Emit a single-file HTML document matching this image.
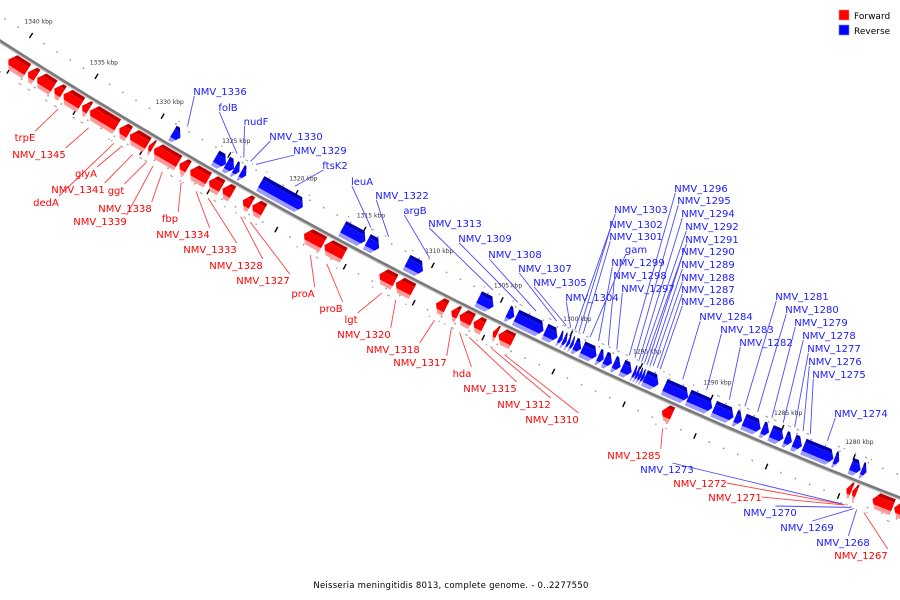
<!DOCTYPE html>
<html>
<head>
<meta charset="utf-8">
<style>
html,body{margin:0;padding:0;background:#fff;}
svg{display:block;}
text{font-family:"DejaVu Sans","Liberation Sans",sans-serif;}
</style>
</head>
<body>
<svg id="chart" width="900" height="600" viewBox="0 0 900 600" xmlns="http://www.w3.org/2000/svg">
  <g id="ticks"></g>
  <g id="backbone"></g>
  <g id="genes"></g>
  <g id="leaders"></g>
  <g id="labels"></g>
  <g>
    <rect x="839" y="10" width="10" height="10" fill="#ff0000" stroke="#ff8080" stroke-width="0.6"/>
    <text x="854" y="19" font-size="9" fill="#000">Forward</text>
    <rect x="839" y="25" width="10" height="10" fill="#0000ff" stroke="#8080ff" stroke-width="0.6"/>
    <text x="854" y="34" font-size="9" fill="#000">Reverse</text>
  </g>
  <text x="451" y="588" font-size="8.5" text-anchor="middle" fill="#000" letter-spacing="0.25">Neisseria meningitidis 8013, complete genome. - 0..2277550</text>
</svg>
<script>
// ---- data (kbp) ----
const fwdStart = [1340.4,1338.9,1338.2,1336.9,1336.2,1334.8,1334.2,1332.0,1331.2,1329.8,1329.4,1327.5,1326.7,1325.3,1324.3,1322.8,1322.1,1318.3,1316.8,1312.8,1311.6,1308.7,1307.6,1307.0,1306.0,1304.6,1304.2,1292.6,1279.7,1279.3,1277.9,1276.4];
const fwdEnd   = [1339.0,1338.3,1337.0,1336.3,1334.9,1334.3,1332.2,1331.3,1329.9,1329.5,1327.6,1326.9,1325.4,1324.4,1323.6,1322.2,1321.3,1316.9,1315.4,1311.7,1310.4,1308.0,1307.1,1306.1,1305.3,1304.3,1303.2,1291.9,1279.35,1279.0,1276.5,1275.3];
const revStart = [1328.9,1325.7,1324.9,1324.3,1323.8,1322.35,1316.3,1314.5,1311.6,1306.4,1304.3,1303.7,1301.6,1300.6,1300.3,1300.0,1299.75,1299.5,1298.95,1297.8,1297.35,1296.7,1296.1,1295.3,1295.1,1294.9,1294.7,1294.5,1293.1,1291.4,1289.6,1288.1,1287.5,1286.2,1285.6,1284.6,1284.0,1283.3,1281.15,1280.0,1279.25];
const revEnd   = [1328.3,1324.9,1324.3,1323.9,1323.4,1319.2,1314.6,1313.6,1310.4,1305.3,1303.8,1301.7,1300.7,1300.35,1300.05,1299.8,1299.55,1299.0,1297.9,1297.4,1296.8,1296.2,1295.4,1295.1,1294.9,1294.7,1294.5,1293.5,1291.4,1289.7,1288.2,1287.6,1286.3,1285.7,1284.7,1284.1,1283.4,1281.2,1280.8,1279.3,1278.9];
const tickKbp = [1340,1335,1330,1325,1320,1315,1310,1305,1300,1295,1290,1285,1280];
const tickLabels = ["1340 kbp","1335 kbp","1330 kbp","1325 kbp","1320 kbp","1315 kbp","1310 kbp","1305 kbp","1300 kbp","1295 kbp","1290 kbp","1285 kbp","1280 kbp"];
const labelNames = ["trpE","NMV_1345","glyA","NMV_1341","ggt","dedA","NMV_1338","NMV_1339","fbp","NMV_1334","NMV_1333","NMV_1328","NMV_1327","proA","proB","lgt","NMV_1320","NMV_1318","NMV_1317","hda","NMV_1315","NMV_1312","NMV_1310","NMV_1285","NMV_1272","NMV_1271","NMV_1267",
"NMV_1336","folB","nudF","NMV_1330","NMV_1329","ftsK2","leuA","NMV_1322","argB","NMV_1313","NMV_1309","NMV_1308","NMV_1307","NMV_1305","NMV_1304","NMV_1303","NMV_1302","NMV_1301","gam","NMV_1299","NMV_1298","NMV_1297","NMV_1296","NMV_1295","NMV_1294","NMV_1292","NMV_1291","NMV_1290","NMV_1289","NMV_1288","NMV_1287","NMV_1286","NMV_1284","NMV_1283","NMV_1282","NMV_1281","NMV_1280","NMV_1279","NMV_1278","NMV_1277","NMV_1276","NMV_1275","NMV_1274","NMV_1273","NMV_1270","NMV_1269","NMV_1268"];
const labelStrand = ["F","F","F","F","F","F","F","F","F","F","F","F","F","F","F","F","F","F","F","F","F","F","F","F","F","F","F",
"R","R","R","R","R","R","R","R","R","R","R","R","R","R","R","R","R","R","R","R","R","R","R","R","R","R","R","R","R","R","R","R","R","R","R","R","R","R","R","R","R","R","R","R","R","R","R"];
const labelTarget = [1336.0,1333.7,1331.3,1330.4,1329.4,1331.8,1328.2,1328.9,1326.8,1325.7,1324.8,1322.4,1321.7,1317.3,1316.1,1312.1,1311.1,1308.3,1307.1,1306.5,1305.8,1304.2,1303.3,1292.1,1279.5,1279.4,1278.1,
1328.3,1324.6,1324.1,1323.6,1323.2,1320.3,1314.7,1313.4,1310.4,1305.8,1304.0,1302.7,1301.2,1300.5,1300.2,1299.9,1299.6,1299.3,1298.8,1298.2,1297.5,1296.9,1296.0,1295.6,1295.3,1295.1,1294.9,1294.7,1294.5,1294.3,1294.0,1293.8,1292.2,1290.5,1288.9,1287.8,1286.9,1285.9,1285.1,1284.3,1283.7,1283.2,1282.0,1279.6,1279.0,1278.8,1278.6];
// label layout (text centre x, centre y) — placement, not data
const labelLayoutX = [25,39,86,78,116,46,125,100,170,183,210,236,263,303,331,351,364,393,420,462,490,524,552,634,700,735,861,
220,228,256,296,320,335,362,402,415,455,485,515,545,560,592,641,636,636,636,638,640,648,701,704,708,712,712,708,708,708,708,708,726,747,766,802,812,821,829,834,835,839,861,667,770,807,843];
const labelLayoutY = [137,154,173,189,190,202,208,221,218,234,249,265,280,293,308,319,334,349,362,373,388,404,419,455,483,497,555,
91,107,121,136,150,165,181,195,210,223,238,254,268,282,297,209,224,236,249,262,275,288,188,200,213,226,239,251,264,277,289,301,316,329,342,296,309,322,335,348,361,374,413,469,512,527,542];

// ---- geometry ----
const NS = "http://www.w3.org/2000/svg";
const CX = 2712, CY = -4185, R = 5021;
const DTH = 15.5 / R;
const TH_REF = Math.atan2(267 - CY, 432 - CX);
function pos(k, r){ const t = TH_REF + (k - 1310) * DTH; return [CX + r*Math.cos(t), CY + r*Math.sin(t)]; }
function mk(tag, attrs, parent){ const e = document.createElementNS(NS, tag); for (const a in attrs) e.setAttribute(a, attrs[a]); parent.appendChild(e); return e; }
function pts(a){ return a.map(p => p[0].toFixed(1)+","+p[1].toFixed(1)).join(" "); }

// backbone
const gb = document.getElementById("backbone");
const bbS = [], bbL = [];
for (let k = 1344; k >= 1273; k -= 0.5){ bbS.push(pos(k, R + 1.5)); bbL.push(pos(k, R)); }
const bsh = mk("polyline", {points: pts(bbS), fill: "none", stroke: "#c8c8c8", "stroke-width": 2}, gb);


const bl = mk("polyline", {points: pts(bbL), fill: "none", stroke: "#7a7a7a", "stroke-width": 2.6}, gb);



// ticks & dots
const gt = document.getElementById("ticks");
for (let k = 1344; k >= 1274; k--){
  const major = tickKbp.indexOf(k);
  [R - 21, R + 21].forEach(function(r){
    if (major >= 0){
      const a = pos(k, r - 3), b = pos(k, r + 3);
      const tm = mk("line", {x1:a[0], y1:a[1], x2:b[0], y2:b[1], stroke:"#000", "stroke-width":1.4}, gt);
      
      
    } else {
      const p = pos(k, r);
      const d = mk("circle", {cx:p[0], cy:p[1], r:0.9, fill:"#999"}, gt);
      
      
    }
  });
}
tickKbp.forEach(function(k, i){
  const p = pos(k, R - 35);
  const t = mk("text", {x:p[0], y:p[1], "font-size":6, "text-anchor":"middle", fill:"#333", "font-family":"Liberation Serif, serif"}, gt);
  t.textContent = tickLabels[i];
  
  
});

// genes
const gg = document.getElementById("genes");
function band(s, e, ra, rb, rm, h, tipAtStart, L){
  const len = s - e; const Lk = Math.min(L, len * 0.7);
  function endAt(r){ const f = 1 - Math.abs(r - rm)/h; return Lk * Math.max(0, f); }
  const tipK = tipAtStart ? s : e;
  const bodyK = tipAtStart ? s - Lk : e + Lk;
  const sign = tipAtStart ? 1 : -1;
  const other = tipAtStart ? e : s;
  const P = [];
  const n = Math.max(2, Math.ceil(len));
  for (let i = 0; i <= n; i++){ const k = other + (bodyK - other) * i / n; P.push(pos(k, ra)); }
  P.push(pos(bodyK + sign*endAt(ra), ra));
  if ((ra - rm)*(rb - rm) < 0) P.push(pos(tipK, rm));
  P.push(pos(bodyK + sign*endAt(rb), rb));
  for (let i = n; i >= 0; i--){ const k = other + (bodyK - other) * i / n; P.push(pos(k, rb)); }
  return P;
}
function endDots(s, e, r, g){
  [s, e].forEach(function(k){
    const p = pos(k, r);
    const d = mk("circle", {cx:p[0], cy:p[1], r:0.8, fill:"#aaa"}, g);
    
    
  });
}
const LK = 0.35;
fwdStart.forEach(function(s, i){
  const e = fwdEnd[i];
  const g = mk("g", {}, gg);
  
  
  const r0 = R + 3, r3 = R + 20, rm = (r0 + r3)/2, h = (r3 - r0)/2;
  [[r0, r0 + 4, "#c00000"], [r0 + 4, r3 - 4, "#ff0000"], [r3 - 4, r3, "#ff9a9a"]].forEach(function(b){
    mk("polygon", {points: pts(band(s, e, b[0], b[1], rm, h, true, LK)), fill: b[2]}, g);
  });
  endDots(s, e, R + 26, g);
});
revStart.forEach(function(s, i){
  const e = revEnd[i];
  const g = mk("g", {}, gg);
  
  
  const r0 = R - 20, r3 = R - 3, rm = (r0 + r3)/2, h = (r3 - r0)/2;
  [[r0, r0 + 4, "#0000b0"], [r0 + 4, r3 - 4, "#0a0aff"], [r3 - 4, r3, "#9a9aff"]].forEach(function(b){
    mk("polygon", {points: pts(band(s, e, b[0], b[1], rm, h, false, LK)), fill: b[2]}, g);
  });
  endDots(s, e, R - 25, g);
});

// labels + leaders
const gl = document.getElementById("labels");
const gd = document.getElementById("leaders");
labelNames.forEach(function(name, i){
  const fwd = labelStrand[i] === "F";
  const col = fwd ? "#ff0000" : "#1a1aff";
  const lc = fwd ? "#ff4040" : "#4a4aff";
  const cx = labelLayoutX[i], cy = labelLayoutY[i];
  const t = mk("text", {x: cx, y: cy + 4, "font-size": 10, "text-anchor": "middle", fill: col}, gl);
  t.textContent = name;
  
  
  let w = 6.4 * name.length;
  try { const bb = t.getBBox(); if (bb.width > 0) w = bb.width; } catch(err) {}
  const below = Math.hypot(cx - CX, cy - CY) > R;
  const T = pos(labelTarget[i], below ? R + 27 : R - 26);
  const x0 = cx - w/2, x1 = cx + w/2, y0 = cy - 6, y1 = cy + 5;
  let ax, ay;
  if (fwd){
    ax = x1; ay = Math.min(Math.max(T[1], y0), cy);
  } else if (below){
    ax = Math.min(Math.max(T[0], x0), x0 + w*0.6); ay = y0;
  } else {
    ax = x0 + 1; ay = y1;
  }
  const ln = mk("line", {x1: ax, y1: ay, x2: T[0], y2: T[1], stroke: lc, "stroke-width": 0.9}, gd);
  
  
});
</script>
</body>
</html>
